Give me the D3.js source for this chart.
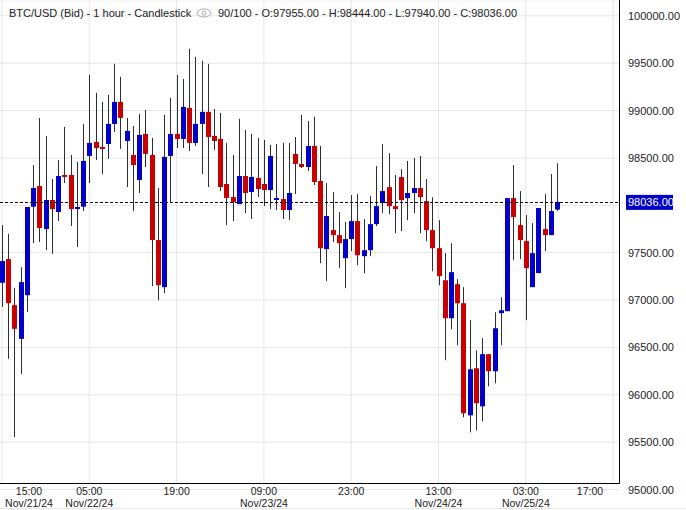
<!DOCTYPE html>
<html><head><meta charset="utf-8">
<script src="https://cdn.jsdelivr.net/npm/d3@7"></script>
<style>body{margin:0;background:#fff}svg{display:block;font-family:"Liberation Sans",Arial,sans-serif}</style>
</head><body><svg id="c" width="686" height="510"></svg>
<script>
const startTime = "2024-11-21T15:00";
const open = [97182,97432,96946,96590,97051,97985,98204,97749,98056,97929,98320,98320,97960,97985,98521,98669,98616,98647,98859,99091,98679,98531,98267,98753,98531,97633,
97136,98521,98753,98700,99028,98658,98859,98986,98732,98700,98225,98087,98013,98309,98140,98288,98225,98161,98056,98066,97950,98542,98436,98404,98626,
98256,97537,97738,97685,97442,97643,97833,97463,97526,97801,98023,98192,97991,98298,98076,98129,98182,98044,97738,97547,97209,96808,97167,
96966,95783,96280,95878,96428,96248,96861,96882,98076,97791,97622,97136,97284,97749,97685,97955];
const high = [97791,97700,97129,97347,97982,98425,98922,98732,98277,98478,98827,98531,98457,98859,99377,99186,99091,99165,99493,99355,98922,98838,98964,99007,98711,98182,
98954,99134,99377,99334,99651,99567,99525,99493,99017,98975,98658,98531,98912,98795,98753,98711,98690,98637,98647,98658,98658,98721,98954,98890,98933,
98625,98234,98139,97928,97822,98108,98118,97854,98097,98414,98647,98551,98319,98382,98467,98499,98520,98277,98086,97843,97495,97600,97220,
97136,96787,96470,96597,96428,96871,97030,98076,98425,98150,97897,97812,97971,98118,98330,98444];
const low = [96928,96379,95554,96220,96875,97601,97612,97527,97488,97834,98235,97781,97559,97939,98235,98478,98330,98489,98774,98595,98193,97939,98130,98404,97147,96999,
97073,98034,98605,98605,98573,98626,98330,98193,98584,98151,97791,97834,98013,97918,97855,98087,97992,97960,97950,97855,97844,98119,98394,98362,98214,
97389,97199,97611,97336,97125,97516,97368,97283,97463,97780,97917,97907,97706,97727,97843,97917,97706,97621,97304,97156,96364,96691,96522,
95762,95603,95624,95719,96089,96121,96523,96882,97421,97432,96787,97136,97284,97516,97685,97940];
const close = [97411,96967,96696,97189,97982,98182,97760,98056,97960,98309,98299,97960,97982,98468,98658,98605,98605,98859,99091,98922,98785,98425,98743,98542,97633,97157,
98510,98753,98700,99038,98658,98859,98986,98721,98679,98193,98077,98034,98309,98130,98299,98172,98161,98521,98077,97950,98130,98436,98404,98626,98246,
97547,97886,97685,97600,97643,97833,97473,97526,97801,97991,98150,97991,97960,98055,98129,98182,98086,97738,97547,97252,96808,97294,96966,
95804,96269,95910,96428,96248,96702,96892,98076,97875,97632,97336,97495,97971,97685,97939,98036];
const yTicks = [100000,99500,99000,98500,98000,97500,97000,96500,96000,95500,95000];
const lastPrice = 98036;

const H = 3600e3;
const t0 = new Date(startTime);
const times = open.map((_, i) => new Date(+t0 + i * H));
const svg = d3.select("#c");
const W = 619, B = 483;
const pxH = 6.236;
const x = d3.scaleTime().domain([new Date(+t0 - 2/pxH*H), new Date(+t0 + (W-2)/pxH*H)]).range([0, W]);
const y = d3.scaleLinear().domain([95000, 100000]).range([489.5, 15.8]);

const g = svg.append("g");
g.selectAll(".hg").data(yTicks).join("line").attr("x1",0).attr("x2",W).attr("y1",d=>y(d)).attr("y2",d=>y(d)).attr("stroke","#e6e6e6");
const xt = d3.range(0, 8).map(k => new Date(+t0 + k*14*H));
g.selectAll(".vg").data(xt).join("line").attr("x1",d=>x(d)).attr("x2",d=>x(d)).attr("y1",0).attr("y2",B).attr("stroke","#e6e6e6");
svg.append("line").attr("x1",0).attr("x2",W).attr("y1",1).attr("y2",1).attr("stroke","#f0f0f0");

const cg = svg.append("g");
times.forEach((t, i) => {
  const cx = Math.round(x(t)) + 0.5;
  const up = close[i] >= open[i];
  cg.append("line").attr("x1",cx).attr("x2",cx).attr("y1",y(high[i])).attr("y2",y(low[i])).attr("stroke","#2a2f33").attr("stroke-width",1);
  const top = y(Math.max(open[i], close[i])), bot = y(Math.min(open[i], close[i]));
  cg.append("rect").attr("x",cx-2.5).attr("width",5).attr("y",top).attr("height",Math.max(2, bot-top)).attr("fill", up ? "#0000c8" : "#c80000");
});

svg.append("line").attr("x1",0).attr("x2",W).attr("y1",Math.round(y(lastPrice))+0.5).attr("y2",Math.round(y(lastPrice))+0.5)
  .attr("stroke","#000").attr("stroke-dasharray","3,2");

svg.append("line").attr("x1",W+0.5).attr("x2",W+0.5).attr("y1",0).attr("y2",B+0.5).attr("stroke","#000");
svg.append("line").attr("x1",0).attr("x2",W+0.5).attr("y1",B+0.5).attr("y2",B+0.5).attr("stroke","#000");
svg.append("line").attr("x1",0).attr("x2",686).attr("y1",508.5).attr("y2",508.5).attr("stroke","#e6e6e6");

const py = y(lastPrice);
svg.selectAll(".yl").data(yTicks.filter(d => Math.abs(y(d) - py) > 12)).join("text").attr("x",628).attr("y",d=>y(d)+4).attr("font-size",11).attr("fill","#222").text(d=>d.toFixed(2));
svg.append("rect").attr("x",626).attr("y",py-7).attr("width",47).attr("height",15).attr("fill","#0000c8");
svg.append("text").attr("x",628).attr("y",py+4).attr("font-size",11).attr("fill","#fff").text(lastPrice.toFixed(2));

const fT = d3.timeFormat("%H:%M"), fD = d3.timeFormat("Nov/%d/%y");
let lastDay = null;
xt.forEach(d => {
  let px = Math.min(Math.max(x(d), 29), 590);
  svg.append("text").attr("x",px).attr("y",495).attr("text-anchor","middle").attr("font-size",10.5).attr("fill","#222").text(fT(d));
  const day = d.getDate();
  if (day !== lastDay) {
    svg.append("text").attr("x",px).attr("y",506.5).attr("text-anchor","middle").attr("font-size",10.5).attr("fill","#222").text(fD(d));
    lastDay = day;
  }
});

svg.append("text").attr("x",9).attr("y",17).attr("font-size",11).attr("fill","#222").text("BTC/USD (Bid) - 1 hour - Candlestick");
svg.append("ellipse").attr("cx",204).attr("cy",13).attr("rx",7).attr("ry",4).attr("fill","none").attr("stroke","#aaa");
svg.append("circle").attr("cx",204).attr("cy",13).attr("r",2).attr("fill","none").attr("stroke","#aaa");
svg.append("text").attr("x",218).attr("y",17).attr("font-size",11).attr("fill","#222")
  .text(`90/100 - O:${open[89].toFixed(2)} - H:${high[89].toFixed(2)} - L:${low[89].toFixed(2)} - C:${close[89].toFixed(2)}`);
</script></body></html>
